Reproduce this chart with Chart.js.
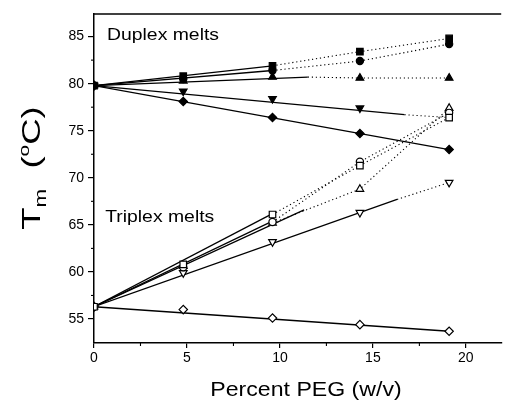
<!DOCTYPE html>
<html><head><meta charset="utf-8">
<script src="https://cdn.jsdelivr.net/npm/chart.js@4"></script>
<style>html,body{margin:0;padding:0;background:#fff}#wrap{width:507px;height:401px;position:relative}</style>
</head><body><div id="wrap"><canvas id="c"></canvas></div>
<script>
// ---- data ----
const pegX = [0, 4.8, 9.6, 14.3, 19.1];

// Duplex melts (filled markers)
const duplexSquare   = [79.8, 80.8, 81.9, 83.4, 84.8];
const duplexCircle   = [79.8, 80.5, 81.4, 82.4, 84.2];
const duplexTriUp    = [79.8, 80.3, 80.7, 80.6, 80.6];
const duplexTriDown  = [79.8, 79.2, 78.4, 77.4, null];
const duplexDiamond  = [79.8, 78.1, 76.4, 74.7, 73.0];

// Triplex melts (open markers)
const triplexSquare  = [56.3, 60.8, 66.1, 71.3, 76.4];
const triplexCircle  = [56.3, 60.5, 65.3, 71.7, 76.9];
const triplexTriUp   = [56.3, 60.6, 65.2, 68.8, 77.4];
const triplexTriDown = [56.3, 59.9, 63.2, 66.3, 69.5];
const triplexDiamond = [56.3, 56.0, 55.1, 54.4, 53.7];

// end points of the solid fitted lines (they start at x = 0)
const duplexFitEndX  = [9.6, 9.6, 11.5, 16.7, 19.1];
const duplexFitEndY  = [81.9, 81.4, 80.7, 76.7, 73.0];
const triplexFitEndX = [9.6, 9.6, 11.3, 16.3, 19.1];
const triplexFitEndY = [66.2, 65.4, 66.6, 67.7, 53.7];

// dotted continuation: start at a point index, or 'fit' = from the fit end
const duplexDotStart  = [2, 2, 'fit', 'fit', null];
const triplexDotStart = [2, 2, 2, 'fit', null];
// extra dotted end point for the duplex down-triangle series (no marker)
const duplexTriDownTail = [19.1, 76.4];

const xTicks = [0, 5, 10, 15, 20];
const xMinor = [2.5, 7.5, 12.5, 17.5];
const yTicks = [55, 60, 65, 70, 75, 80, 85];
const yMinor = [57.5, 62.5, 67.5, 72.5, 77.5, 82.5];

// ---- build datasets ----
const FONT = "'Liberation Sans', Arial, Helvetica, sans-serif";
const styles = [
  {ps: 'rect', r: 4.6, rot: 0},
  {ps: 'circle', r: 3.6, rot: 0},
  {ps: 'triangle', r: 4.4, rot: 0},
  {ps: 'triangle', r: 4.4, rot: 180},
  {ps: 'rectRot', r: 4.2, rot: 0}
];
const datasets = [];
function addGroup(series, fitX, fitY, dotStart, filled, tails) {
  series.forEach((vals, i) => {
    const pts = [];
    pegX.forEach((x, k) => { if (vals[k] !== null) pts.push({x: x, y: vals[k]}); });
    datasets.push({data: [{x: pegX[0], y: vals[0]}, {x: fitX[i], y: fitY[i]}],
      showLine: true, borderColor: '#000', borderWidth: 1.3, pointRadius: 0, order: 2});
    if (dotStart[i] !== null) {
      let d = [];
      if (dotStart[i] === 'fit') {
        d.push({x: fitX[i], y: fitY[i]});
        pegX.forEach((x, k) => { if (x > fitX[i] && vals[k] !== null) d.push({x: x, y: vals[k]}); });
      } else {
        for (let k = dotStart[i]; k < pegX.length; k++) if (vals[k] !== null) d.push({x: pegX[k], y: vals[k]});
      }
      if (tails && tails[i]) d.push({x: tails[i][0], y: tails[i][1]});
      datasets.push({data: d, showLine: true, borderColor: '#000', borderWidth: 1.1,
        borderDash: [1.2, 2.8], pointRadius: 0, order: 2});
    }
    const s = styles[i];
    datasets.push({data: pts, showLine: false, pointStyle: s.ps, pointRadius: s.r,
      rotation: s.rot, pointBorderColor: '#000', pointBorderWidth: 1.2,
      pointBackgroundColor: filled ? '#000' : '#fff', order: 0});
  });
}
addGroup([duplexSquare, duplexCircle, duplexTriUp, duplexTriDown, duplexDiamond],
  duplexFitEndX, duplexFitEndY, duplexDotStart, true, [null, null, null, duplexTriDownTail, null]);
addGroup([triplexSquare, triplexCircle, triplexTriUp, triplexTriDown, triplexDiamond],
  triplexFitEndX, triplexFitEndY, triplexDotStart, false, null);

const decor = {
  id: 'decor',
  afterDraw(chart) {
    const ctx = chart.ctx, a = chart.chartArea, xs = chart.scales.x, ys = chart.scales.y;
    ctx.save();
    ctx.strokeStyle = '#000'; ctx.lineWidth = 1.5;
    ctx.beginPath(); ctx.moveTo(a.left - 0.75, a.top); ctx.lineTo(a.right, a.top); ctx.stroke();
    ctx.lineWidth = 1.1;
    xMinor.forEach(v => { const p = xs.getPixelForValue(v); ctx.beginPath(); ctx.moveTo(p, a.bottom); ctx.lineTo(p, a.bottom + 3); ctx.stroke(); });
    yMinor.forEach(v => { const p = ys.getPixelForValue(v); ctx.beginPath(); ctx.moveTo(a.left, p); ctx.lineTo(a.left - 3, p); ctx.stroke(); });
    ctx.fillStyle = '#000';
    ctx.textBaseline = 'alphabetic';
    function stretched(text, x, y, size, sx) {
      ctx.save(); ctx.translate(x, y); ctx.scale(sx, 1);
      ctx.font = size + 'px ' + FONT; ctx.textAlign = 'left'; ctx.fillText(text, 0, 0); ctx.restore();
    }
    stretched('Duplex melts', xs.getPixelForValue(0.7), ys.getPixelForValue(84.6), 17, 1.14);
    stretched('Triplex melts', xs.getPixelForValue(0.6), ys.getPixelForValue(65.3), 17, 1.14);
    // x title
    ctx.save();
    ctx.font = '21px ' + FONT; ctx.textAlign = 'center';
    ctx.translate(306, 396); ctx.scale(1.1, 1); ctx.fillText('Percent PEG (w/v)', 0, 0);
    ctx.restore();
    // y title: T_m (°C)
    ctx.save();
    ctx.translate(40, 168); ctx.rotate(-Math.PI / 2); ctx.scale(1.4, 1);
    const parts = [
      {t: 'T', s: 26, dy: 0}, {t: 'm', s: 16, dy: 6}, {t: '  (', s: 26, dy: 0},
      {t: 'o', s: 15, dy: -11}, {t: 'C)', s: 26, dy: 0}
    ];
    let w = 0;
    parts.forEach(p => { ctx.font = p.s + 'px ' + FONT; p.w = ctx.measureText(p.t).width; w += p.w; });
    let cx = -w / 2;
    ctx.textAlign = 'left';
    parts.forEach(p => { ctx.font = p.s + 'px ' + FONT; ctx.fillText(p.t, cx, p.dy); cx += p.w; });
    ctx.restore();
    ctx.restore();
  }
};

new Chart(document.getElementById('c'), {
  type: 'scatter',
  data: {datasets: datasets},
  options: {
    responsive: true, maintainAspectRatio: false, animation: false,
    layout: {padding: {top: 14, right: 0, left: 0, bottom: 0}},
    plugins: {legend: {display: false}, tooltip: {enabled: false}},
    scales: {
      x: {
        type: 'linear', position: 'bottom', min: 0, max: 21.9,
        afterBuildTicks: s => { s.ticks = xTicks.map(v => ({value: v})); },
        afterFit: s => { s.height = 58; },
        ticks: {color: '#000', font: {family: FONT, size: 14}, padding: 2, maxRotation: 0,
          callback: v => String(v)},
        grid: {drawOnChartArea: false, drawTicks: true, tickLength: 5, color: '#000', lineWidth: 1.2},
        border: {color: '#000', width: 1.5}
      },
      y: {
        type: 'linear', min: 52.45, max: 87.4,
        afterBuildTicks: s => { s.ticks = yTicks.map(v => ({value: v})); },
        afterFit: s => { s.width = 94; },
        ticks: {color: '#000', font: {family: FONT, size: 14}, padding: 4,
          callback: v => String(v)},
        grid: {drawOnChartArea: false, drawTicks: true, tickLength: 6, color: '#000', lineWidth: 1.2},
        border: {color: '#000', width: 1.5}
      }
    }
  },
  plugins: [decor]
});
</script></body></html>
